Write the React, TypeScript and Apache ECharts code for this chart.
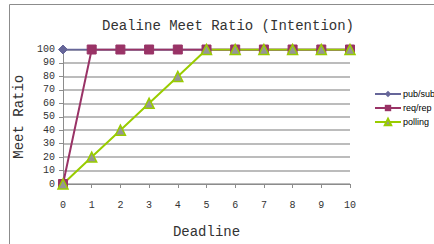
import React, { useEffect, useRef } from "react";
import * as echarts from "echarts";

const deadlines = [0, 1, 2, 3, 4, 5, 6, 7, 8, 9, 10];
const pubSub = [100, 100, 100, 100, 100, 100, 100, 100, 100, 100, 100];
const reqRep = [0, 100, 100, 100, 100, 100, 100, 100, 100, 100, 100];
const polling = [0, 20, 40, 60, 80, 100, 100, 100, 100, 100, 100];
const seriesNames = ["pub/sub", "req/rep", "polling"];

const mono = "Liberation Mono";

export default function App() {
  const ref = useRef<HTMLDivElement>(null);
  useEffect(() => {
    const chart = echarts.init(ref.current!, null, { renderer: "svg" });
    const pair = (arr: number[]) => deadlines.map((d, i) => [d, arr[i]]);
    chart.setOption({
      animation: false,
      backgroundColor: "#ffffff",
      title: {
        text: "Dealine Meet Ratio (Intention)",
        left: 223,
        textAlign: "center",
        top: 14,
        textStyle: { fontFamily: mono, fontSize: 14, fontWeight: "normal", color: "#333" },
      },
      graphic: [
        {
          type: "rect",
          shape: { x: 9.5, y: 4.5, width: 440, height: 260 },
          style: { fill: "none", stroke: "#8c8c8c", lineWidth: 1 },
          silent: true,
        },
      ],
      legend: {
        left: 369,
        top: 84,
        orient: "vertical",
        itemWidth: 26,
        itemHeight: 8,
        itemGap: 4,
        textStyle: { fontFamily: "Liberation Sans", fontSize: 9, lineHeight: 10, color: "#000", padding: [0, 0, 0, -3] },
        data: seriesNames,
      },
      grid: { left: 63, top: 49.5, right: 84, bottom: 54.5 },
      xAxis: {
        type: "value",
        min: 0,
        max: 10,
        interval: 1,
        name: "Deadline",
        nameLocation: "middle",
        nameGap: 41,
        nameTextStyle: { fontFamily: mono, fontSize: 14, color: "#333" },
        axisLine: { show: true, lineStyle: { color: "#8c8c8c", width: 1 } },
        axisTick: { show: true, length: 4, lineStyle: { color: "#8c8c8c" } },
        axisLabel: { fontFamily: mono, fontSize: 10, color: "#333", margin: 16 },
        splitLine: { show: false },
      },
      yAxis: {
        type: "value",
        min: 0,
        max: 100,
        interval: 10,
        name: "Meet Ratio",
        nameLocation: "middle",
        nameGap: 34,
        nameTextStyle: { fontFamily: mono, fontSize: 14, color: "#333" },
        axisLine: { show: true, lineStyle: { color: "#8c8c8c", width: 1 } },
        axisTick: { show: true, length: 4, lineStyle: { color: "#8c8c8c" } },
        axisLabel: { fontFamily: mono, fontSize: 10, color: "#333", margin: 8 },
        splitLine: { show: true, lineStyle: { color: "#a6a6a6", width: 1.5 } },
      },
      series: [
        {
          name: seriesNames[0],
          type: "line",
          data: pair(pubSub),
          symbol: "diamond",
          symbolSize: 9,
          lineStyle: { color: "#666699", width: 2 },
          itemStyle: { color: "#666699", borderColor: "#666699" },
        },
        {
          name: seriesNames[1],
          type: "line",
          data: pair(reqRep),
          symbol: "rect",
          symbolSize: 9,
          lineStyle: { color: "#993366", width: 2 },
          itemStyle: { color: "#993366", borderColor: "#993366" },
        },
        {
          name: seriesNames[2],
          type: "line",
          data: pair(polling),
          symbol: "triangle",
          symbolSize: 10,
          lineStyle: { color: "#99cc00", width: 2 },
          itemStyle: { color: "#969696", borderColor: "#99cc00", borderWidth: 1.5 },
        },
      ],
    });
    return () => chart.dispose();
  }, []);
  return <div ref={ref} style={{ position: "fixed", left: 0, top: 0, width: 434, height: 244 }} />;
}
